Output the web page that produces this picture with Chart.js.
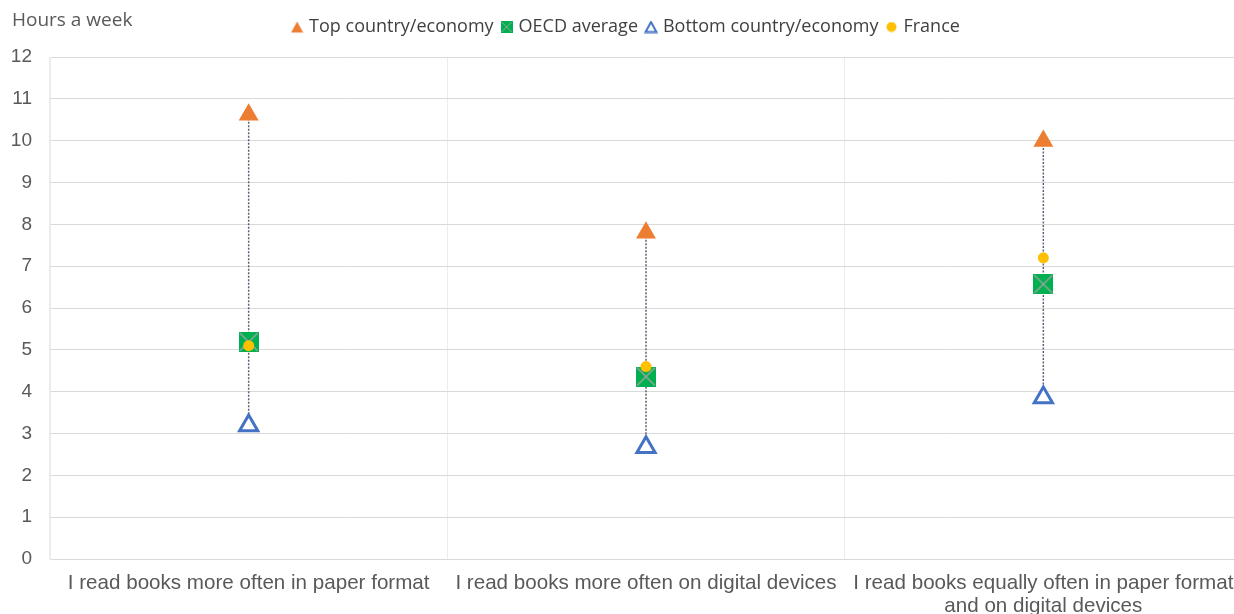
<!DOCTYPE html>
<html><head><meta charset="utf-8">
<script src="https://cdn.jsdelivr.net/npm/chart.js@4.4.1/dist/chart.umd.min.js"></script>
<style>html,body{margin:0;padding:0;overflow:hidden;background:#fff}canvas{display:block}</style>
</head><body><canvas id="c" width="1250" height="614" style="width:1250px;height:614px"></canvas>
<script>
const categories = [
  "I read books more often in paper format",
  "I read books more often on digital devices",
  ["I read books equally often in paper format", "and on digital devices"]
];
const seriesNames = ["Top country/economy", "OECD average", "Bottom country/economy", "France"];
const topValues = [10.62, 7.80, 9.99];
const oecdValues = [5.19, 4.36, 6.57];
const bottomValues = [3.19, 2.67, 3.86];
const franceValues = [5.10, 4.60, 7.20];
const yAxisTitle = "Hours a week";
const yMin = 0, yMax = 12, yStep = 1;

function makeCanvas(w, h, draw) {
  const cv = document.createElement('canvas');
  cv.width = w; cv.height = h;
  draw(cv.getContext('2d'), w, h);
  return cv;
}
function oecdMarker(size) {
  return makeCanvas(size, size, (g, w, h) => {
    g.fillStyle = '#00b050';
    g.fillRect(0, 0, w, h);
    g.strokeStyle = '#9aa59e';
    g.lineWidth = Math.max(1, w / 14);
    g.beginPath();
    g.moveTo(1, 1); g.lineTo(w - 1, h - 1);
    g.moveTo(w - 1, 1); g.lineTo(1, h - 1);
    g.stroke();
  });
}
const oecdBig = oecdMarker(20);
const legendMarkers = [
  makeCanvas(13, 12, (g, w, h) => {
    g.fillStyle = '#ed7d31'; g.beginPath();
    g.moveTo(w / 2, 0.5); g.lineTo(w - 0.5, h - 0.5); g.lineTo(0.5, h - 0.5); g.closePath(); g.fill();
  }),
  oecdMarker(12),
  makeCanvas(14, 13, (g, w, h) => {
    g.strokeStyle = '#4472c4'; g.lineWidth = 2; g.fillStyle = '#fff'; g.beginPath();
    g.moveTo(w / 2, 1.5); g.lineTo(w - 1.5, h - 1.5); g.lineTo(1.5, h - 1.5); g.closePath(); g.fill(); g.stroke();
  }),
  makeCanvas(11, 11, (g, w, h) => {
    g.fillStyle = '#ffc000'; g.beginPath(); g.arc(w / 2, h / 2, 5, 0, Math.PI * 2); g.fill();
  })
];

const connector = [];
categories.forEach((c, i) => {
  connector.push({x: categories[i], y: topValues[i]});
  connector.push({x: categories[i], y: bottomValues[i]});
  connector.push({x: categories[i], y: null});
});

const titlePlugin = {
  id: 'ytitle',
  afterDraw(chart) {
    const ctx = chart.ctx;
    ctx.save();
    ctx.font = '19px "Open Sans"';
    ctx.fillStyle = '#595959';
    ctx.textBaseline = 'middle';
    ctx.fillText(yAxisTitle, 12, 21);
    ctx.restore();
  }
};

new Chart(document.getElementById('c'), {
  type: 'line',
  data: {
    labels: categories,
    datasets: [
      {label: seriesNames[0], data: topValues, showLine: false, pointStyle: 'triangle', pointRadius: 11.5,
       backgroundColor: '#ed7d31', borderColor: '#ed7d31', borderWidth: 0, order: 4},
      {label: seriesNames[1], data: oecdValues, showLine: false, pointStyle: oecdBig, pointRadius: 10,
       backgroundColor: '#00b050', borderColor: '#00b050', order: 3},
      {label: seriesNames[2], data: bottomValues, showLine: false, pointStyle: 'triangle', pointRadius: 10.5,
       backgroundColor: '#ffffff', borderColor: '#4472c4', borderWidth: 3, order: 2},
      {label: seriesNames[3], data: franceValues, showLine: false, pointStyle: 'circle', pointRadius: 5.5,
       backgroundColor: '#ffc000', borderColor: '#ffc000', borderWidth: 0, order: 1},
      {label: 'connector', data: connector, showLine: true, spanGaps: false, pointRadius: 0,
       borderColor: '#5b6273', borderWidth: 1.5, borderDash: [2, 1.5], order: 10}
    ]
  },
  options: {
    responsive: false, animation: false, devicePixelRatio: 1,
    layout: {autoPadding: false, padding: {left: 12, right: 8, top: 0, bottom: 0}},
    plugins: {
      tooltip: {enabled: false},
      subtitle: {display: true, text: ' ', weight: 500, font: {size: 10, lineHeight: 1}, padding: {top: 0, bottom: 1}},
      legend: {
        position: 'top', weight: 3000,
        labels: {
          usePointStyle: true, boxWidth: 6, boxHeight: 12, padding: 10,
          color: '#404040', font: {family: '"Open Sans"', size: 18},
          filter: (item) => item.text !== 'connector',
          sort: (a, b) => a.datasetIndex - b.datasetIndex,
          generateLabels(chart) {
            const items = Chart.defaults.plugins.legend.labels.generateLabels(chart);
            items.forEach(it => {
              if (it.datasetIndex < 4) it.pointStyle = legendMarkers[it.datasetIndex];
            });
            return items;
          }
        }
      }
    },
    scales: {
      x: {
        offset: true,
        grid: {offset: true, color: '#ececec', drawTicks: false},
        border: {color: '#d9d9d9'},
        ticks: {color: '#595959', font: {family: '"Liberation Sans"', size: 20.6, lineHeight: 1.1}, padding: 13, maxRotation: 0, autoSkip: false},
        afterFit(s) { s.height = 55; s.paddingLeft = 0; s.paddingRight = 0; }
      },
      y: {
        min: yMin, max: yMax,
        grid: {color: '#d9d9d9', drawTicks: false},
        border: {color: '#ececec'},
        ticks: {stepSize: yStep, color: '#595959', font: {family: '"Liberation Sans"', size: 19}, padding: 18},
        afterFit(s) { s.width = 38; s.paddingTop = 57; s.paddingBottom = 0; }
      }
    }
  },
  plugins: [titlePlugin]
});
</script>
</body></html>
